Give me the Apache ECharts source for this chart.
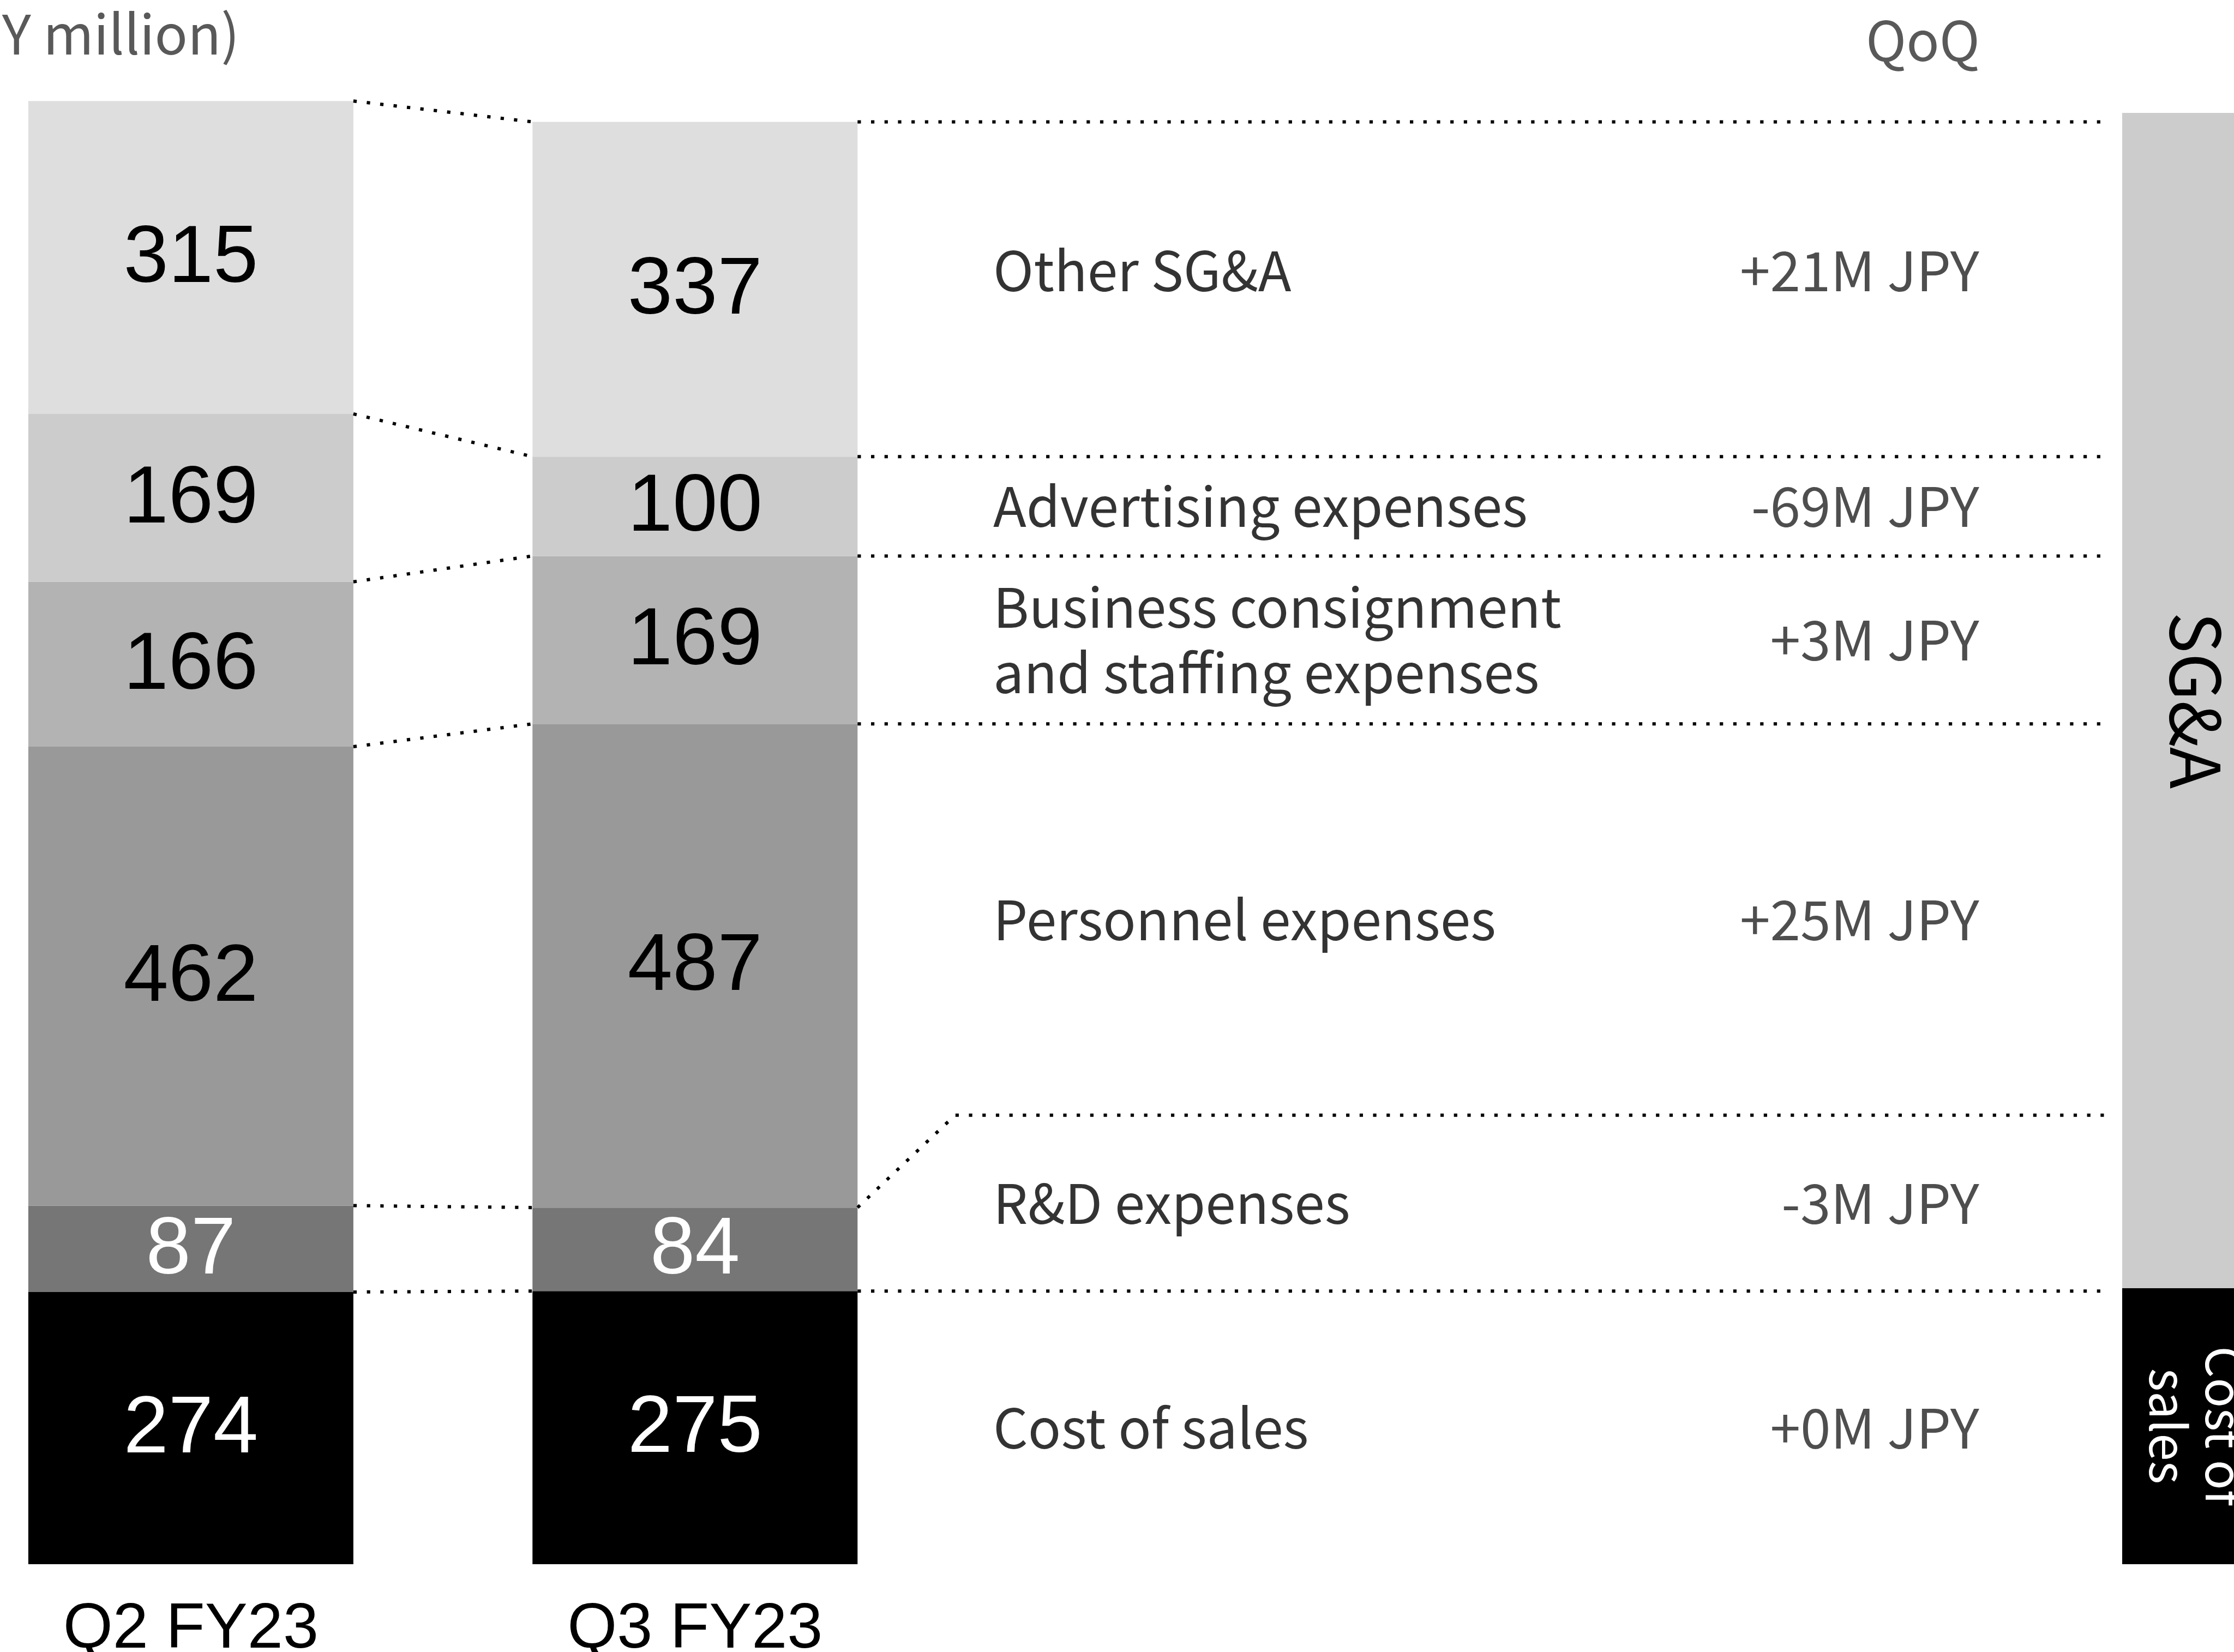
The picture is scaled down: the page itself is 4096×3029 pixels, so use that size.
<!DOCTYPE html>
<html><head><meta charset="utf-8">
<script src="https://cdn.jsdelivr.net/npm/echarts@6/dist/echarts.min.js"></script>
<style>html,body{margin:0;padding:0;background:#fff}#c{width:4096px;height:3029px}</style>
</head><body><div id="c"></div>
<script>
// ---------- data ----------
const categories = ['Q2 FY23', 'Q3 FY23'];
const itemNames = ['Cost of sales', 'R&D expenses', 'Personnel expenses',
  'Business consignment\nand staffing expenses', 'Advertising expenses', 'Other SG&A'];
const q2Values = [274, 87, 462, 166, 169, 315];
const q3Values = [275, 84, 487, 169, 100, 337];
const qoqLabels = ['+0M JPY', '-3M JPY', '+25M JPY', '+3M JPY', '-69M JPY', '+21M JPY'];
const boxLabels = ['Cost of\nsales', 'SG&A'];
const boxValues = [278, 1183];
const unitLabel = '(JPY million)';
const qoqTitle = 'QoQ';

// ---------- style / layout ----------
const colors = ['#000000', '#767676', '#999999', '#b3b3b3', '#cccccc', '#dedede'];
const labelColors = ['#ffffff', '#ffffff', '#000000', '#000000', '#000000', '#000000'];
const boxColors = ['#000000', '#cccccc'];
const boxLabelColors = ['#ffffff', '#000000'];
const W = 4096;
const yMax = 1500;
const plotBottom = 2868, pxPerUnit = 1.8213;
const plotHeight = yMax * pxPerUnit;
const plotTop = plotBottom - plotHeight;
const band = 924.4, q2Center = 349.9;
const barW = 596;
const half = barW / 2 / band;
const toX = px => (px - q2Center) / band;
const lineEndX = toX(3852), rdEndX = toX(3874), rdElbowX = toX(1751);
const nameX = toX(1821), qoqX = toX(3629);
const rdLabelTop = 452;
const overlayMax = (W - q2Center) / band;

const cum = arr => { let s = 0; return arr.map(v => (s += v)); };
const q2Cum = cum(q2Values), q3Cum = cum(q3Values);
// right-side label bands
const bounds = [0, q3Cum[0], rdLabelTop, q3Cum[2], q3Cum[3], q3Cum[4], q3Cum[5]];
const mids = itemNames.map((n, i) => (bounds[i] + bounds[i + 1]) / 2);
const labelOffsets = [[0, 0], [0, 0], [0, 0], [0, 0], [0, 0], [0, -34]];

const dot = { color: '#000', width: 6, type: [6.2, 18.5], cap: 'butt' };

const series = [];
itemNames.forEach((n, i) => {
  series.push({
    type: 'bar', name: n, stack: 'main', xAxisIndex: 0, yAxisIndex: 0,
    barWidth: barW, data: [q2Values[i], q3Values[i]], clip: false,
    itemStyle: { color: colors[i] },
    label: { show: true, position: 'inside', formatter: '{c}', color: labelColors[i],
      fontFamily: 'Liberation Sans', fontSize: 148, offset: [0, 4] }
  });
});
// connectors between bars and guide lines
for (let i = 0; i < q2Cum.length; i++) {
  series.push({ type: 'line', xAxisIndex: 1, yAxisIndex: 1, symbol: 'none', silent: true,
    lineStyle: dot, data: [[half, q2Cum[i]], [1 - half, q3Cum[i]]] });
  const d = (i === 1)
    ? [[1 + half, q3Cum[i]], [rdElbowX, rdLabelTop], [rdEndX, rdLabelTop]]
    : [[1 + half, q3Cum[i]], [lineEndX, q3Cum[i]]];
  series.push({ type: 'line', xAxisIndex: 1, yAxisIndex: 1, symbol: 'none', silent: true,
    lineStyle: dot, data: d });
}
// names
series.push({ type: 'scatter', xAxisIndex: 1, yAxisIndex: 1, symbolSize: 0.1,
  itemStyle: { color: 'transparent' }, silent: true,
  label: { show: true, position: 'right', distance: 0, formatter: '{b}',
    fontFamily: 'Noto Sans CJK JP', fontSize: 100, lineHeight: 120, color: '#000' },
  data: itemNames.map((n, i) => ({ name: n, value: [nameX, mids[i]], label: { offset: labelOffsets[i] } }))
});
series.push({ type: 'scatter', xAxisIndex: 1, yAxisIndex: 1, symbolSize: 0.1,
  itemStyle: { color: 'transparent' }, silent: true,
  label: { show: true, position: 'left', distance: 0, formatter: '{b}',
    fontFamily: 'Noto Sans CJK JP', fontSize: 100, color: '#222222' },
  data: qoqLabels.map((n, i) => ({ name: n, value: [qoqX, mids[i]], label: { offset: labelOffsets[i] } }))
});
// right boxes
boxValues.forEach((v, i) => {
  series.push({ type: 'bar', stack: 'box', xAxisIndex: 2, yAxisIndex: 2, barWidth: 272,
    data: [v], itemStyle: { color: boxColors[i] }, silent: true, clip: false,
    label: { show: true, position: 'inside', rotate: -90, formatter: boxLabels[i],
      color: boxLabelColors[i], fontFamily: 'Noto Sans CJK JP',
      fontSize: i === 0 ? 91 : 126, lineHeight: i === 0 ? 103 : 130 } });
});

const hiddenY = { type: 'value', min: 0, max: yMax, show: false };
const gridBase = { top: plotTop, height: plotHeight, containLabel: false, outerBoundsMode: 'none' };
const option = {
  animation: false,
  backgroundColor: '#ffffff',
  title: [
    { text: unitLabel, right: W - 439, top: 12, padding: 0,
      textStyle: { fontFamily: 'Noto Sans CJK JP', fontSize: 100, fontWeight: 'normal', color: '#595959', lineHeight: 100 } },
    { text: qoqTitle, right: W - 3630, top: 24, padding: 0,
      textStyle: { fontFamily: 'Noto Sans CJK JP', fontSize: 100, fontWeight: 'normal', color: '#595959', lineHeight: 100 } }
  ],
  grid: [
    Object.assign({ left: q2Center, width: band }, gridBase),
    Object.assign({ left: q2Center, width: W - q2Center }, gridBase),
    Object.assign({ left: 3891, width: 272 }, gridBase)
  ],
  xAxis: [
    { type: 'category', gridIndex: 0, data: categories, boundaryGap: false,
      axisLine: { show: false }, axisTick: { show: false }, splitLine: { show: false },
      axisLabel: { margin: 62, fontFamily: 'Liberation Sans', fontSize: 117, color: '#000' } },
    { type: 'value', gridIndex: 1, min: 0, max: overlayMax, show: false },
    { type: 'category', gridIndex: 2, data: [''], show: false }
  ],
  yAxis: [
    Object.assign({ gridIndex: 0 }, hiddenY),
    Object.assign({ gridIndex: 1 }, hiddenY),
    Object.assign({ gridIndex: 2 }, hiddenY)
  ],
  series: series
};
const chart = echarts.init(document.getElementById('c'), null, { renderer: 'canvas' });
chart.setOption(option);
</script></body></html>
